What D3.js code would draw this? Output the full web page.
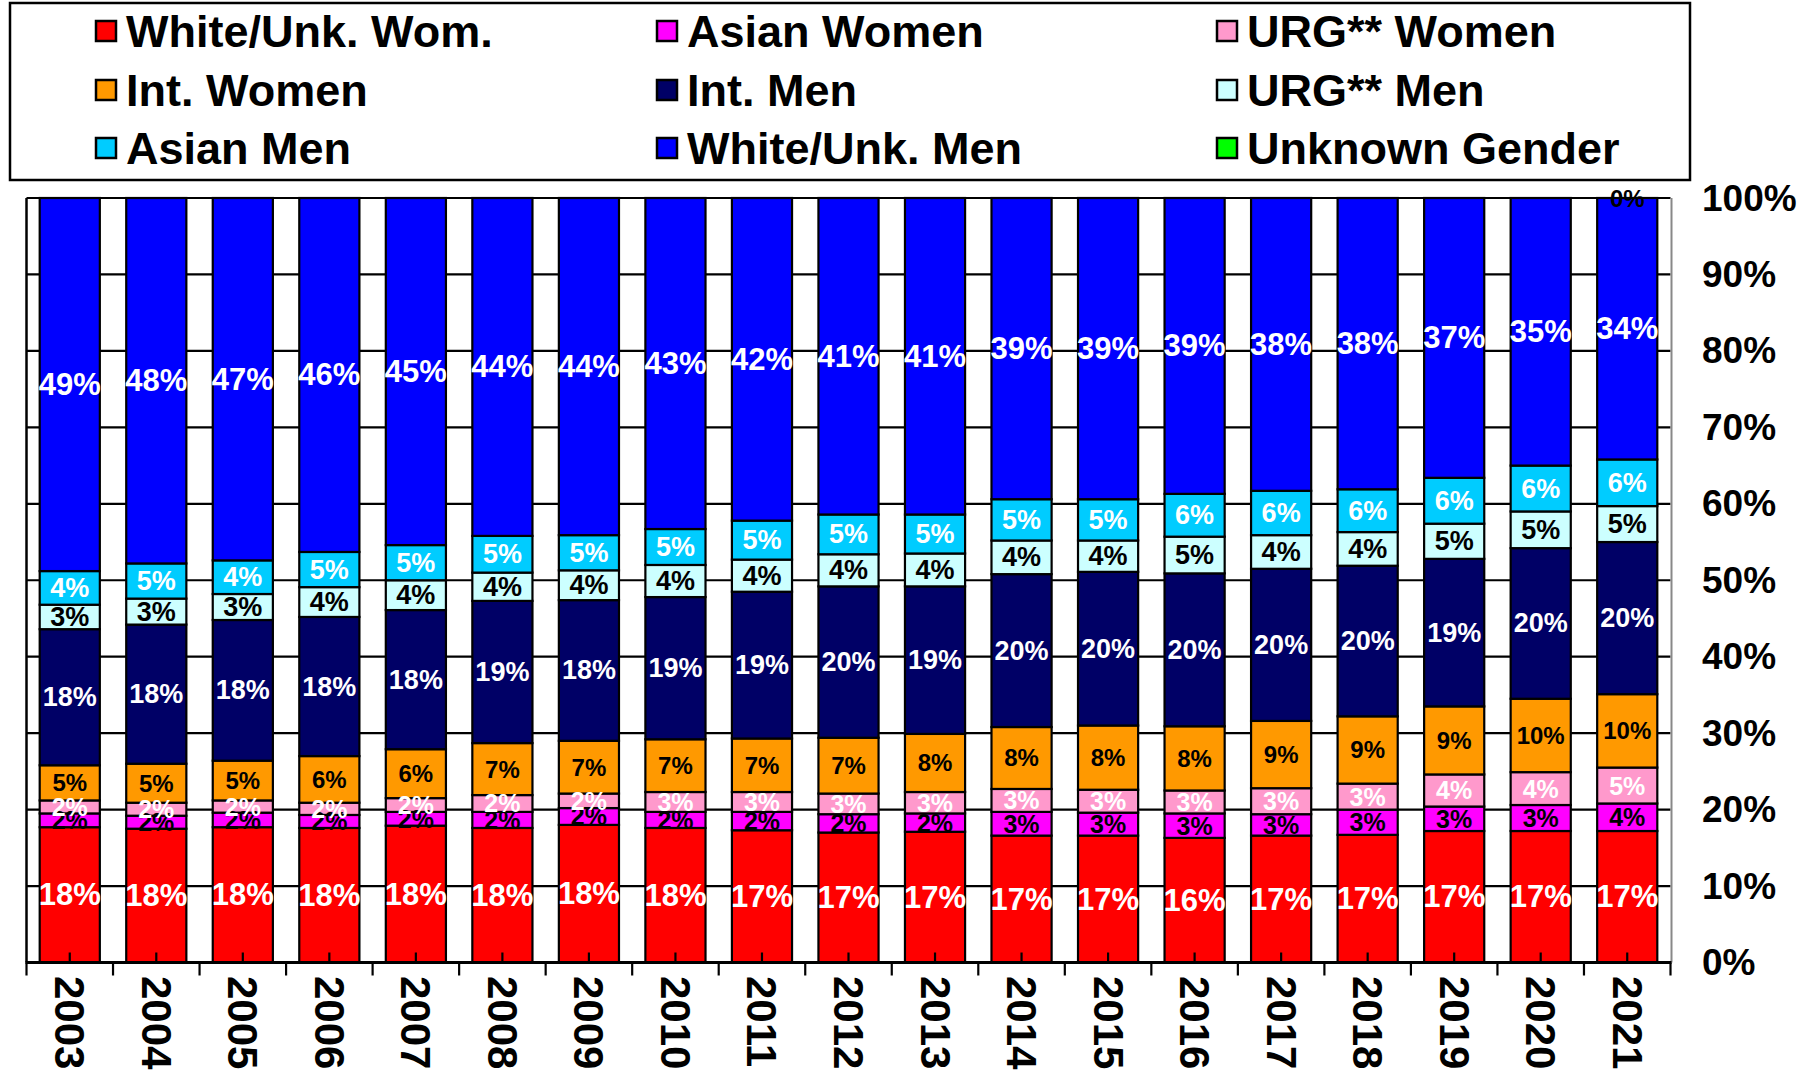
<!DOCTYPE html>
<html>
<head>
<meta charset="utf-8">
<script src="https://cdn.jsdelivr.net/npm/d3@7"></script>
<style>
  html, body { margin: 0; padding: 0; background: #fff; }
  svg { display: block; font-family: "Liberation Sans", Arial, sans-serif; font-weight: bold; }
</style>
</head>
<body>
<svg id="chart" width="1803" height="1074"></svg>
<script>
// ---------- DATA ----------
const years = ["2003","2004","2005","2006","2007","2008","2009","2010","2011","2012","2013","2014","2015","2016","2017","2018","2019","2020","2021"];
const seriesNames = ["White/Unk. Wom.","Asian Women","URG** Women","Int. Women","Int. Men","URG** Men","Asian Men","White/Unk. Men","Unknown Gender"];
const seriesColors = ["#FF0000","#FF00FF","#FF99CC","#FF9900","#000066","#CCFFFF","#00CCFF","#0000FF","#00FF00"];
const labelColors = ["#FFFFFF","#000000","#FFFFFF","#000000","#FFFFFF","#000000","#FFFFFF","#FFFFFF","#000000"];
const labelSizes = [31, 25, 25, 24, 27, 27, 27, 31, 24];

const whiteWomen = [17.7,17.5,17.7,17.6,17.9,17.6,18.0,17.6,17.3,17.0,17.1,16.6,16.6,16.3,16.6,16.7,17.2,17.2,17.2];
const asianWomen = [1.8,1.7,1.9,1.7,1.8,2.1,2.2,2.1,2.4,2.4,2.4,3.1,3.0,3.2,2.8,3.3,3.2,3.4,3.6];
const urgWomen   = [1.7,1.7,1.6,1.6,1.8,2.2,1.9,2.6,2.6,2.7,2.8,3.0,3.0,3.0,3.4,3.4,4.2,4.3,4.7];
const intWomen   = [4.6,5.1,5.2,6.1,6.4,6.8,6.9,6.9,7.0,7.3,7.6,8.1,8.4,8.4,8.8,8.8,8.9,9.6,9.6];
const intMen     = [17.8,18.2,18.4,18.2,18.2,18.6,18.4,18.6,19.2,19.8,19.3,20.0,20.1,20.0,19.9,19.7,19.3,19.7,19.9];
const urgMen     = [3.2,3.4,3.4,3.9,3.9,3.7,3.9,4.2,4.2,4.2,4.3,4.4,4.1,4.8,4.4,4.4,4.6,4.8,4.7];
const asianMen   = [4.4,4.6,4.4,4.6,4.6,4.8,4.6,4.7,5.1,5.2,5.1,5.4,5.4,5.6,5.8,5.6,6.0,6.0,6.1];
const whiteMen   = [48.8,47.8,47.4,46.3,45.4,44.2,44.1,43.3,42.2,41.4,41.4,39.4,39.4,38.7,38.3,38.1,36.6,35.0,34.2];
const unknownGender = [null,null,null,null,null,null,null,null,null,null,null,null,null,null,null,null,null,null,0];

const yTicks = [0,10,20,30,40,50,60,70,80,90,100];

// ---------- BUILD ----------
const seriesValues = [whiteWomen, asianWomen, urgWomen, intWomen, intMen, urgMen, asianMen, whiteMen, unknownGender];
const table = years.map((yr, i) => {
  const row = { year: yr };
  seriesNames.forEach((s, k) => { row[s] = seriesValues[k][i]; });
  return row;
});

const stacked = d3.stack().keys(seriesNames).value((d, key) => d[key] == null ? 0 : d[key])(table);

const svg = d3.select("#chart");

const plotLeft = 26.5, plotRight = 1670.5, plotTop = 198, plotBottom = 962.5;

const x = d3.scaleBand().domain(years).range([plotLeft, plotRight]).paddingInner(0.305).paddingOuter(0.1525);
const y = d3.scaleLinear().domain([0, 100]).range([plotBottom, plotTop]);

// gridlines
svg.append("g").selectAll("line").data(yTicks.filter(t => t > 0)).join("line")
  .attr("x1", plotLeft).attr("x2", plotRight)
  .attr("y1", d => y(d)).attr("y2", d => y(d))
  .attr("stroke", "#000").attr("stroke-width", 2.2);

// left border
svg.append("line").attr("x1", plotLeft).attr("x2", plotLeft).attr("y1", plotTop).attr("y2", plotBottom)
  .attr("stroke", "#000").attr("stroke-width", 2.5);
// right border (gray)
svg.append("line").attr("x1", plotRight + 1).attr("x2", plotRight + 1).attr("y1", plotTop).attr("y2", plotBottom)
  .attr("stroke", "#888").attr("stroke-width", 2);

// bars
const gBars = svg.append("g");
stacked.forEach((layer, k) => {
  gBars.append("g").selectAll("rect").data(layer.filter(d => d.data[seriesNames[k]] != null)).join("rect")
    .attr("x", d => x(d.data.year))
    .attr("width", x.bandwidth())
    .attr("y", d => y(d[1]))
    .attr("height", d => Math.max(0, y(d[0]) - y(d[1])))
    .attr("fill", seriesColors[k])
    .attr("stroke", "#000")
    .attr("stroke-width", 2.2);
});

// x axis line and ticks
svg.append("line").attr("x1", plotLeft - 1).attr("x2", plotRight + 1).attr("y1", plotBottom).attr("y2", plotBottom)
  .attr("stroke", "#000").attr("stroke-width", 3);
const boundaries = years.map(yr => x(yr) - x.step() * x.paddingInner() / 2).concat([plotRight]);
boundaries[0] = plotLeft;
svg.append("g").selectAll("line").data(boundaries).join("line")
  .attr("x1", d => d).attr("x2", d => d)
  .attr("y1", plotBottom).attr("y2", plotBottom + 13)
  .attr("stroke", "#000").attr("stroke-width", 2.2);
svg.append("g").selectAll("line").data(years).join("line")
  .attr("x1", d => x(d) + x.bandwidth() / 2).attr("x2", d => x(d) + x.bandwidth() / 2)
  .attr("y1", plotBottom - 10).attr("y2", plotBottom)
  .attr("stroke", "#000").attr("stroke-width", 2.2);

// data labels
const gLabels = svg.append("g");
stacked.forEach((layer, k) => {
  gLabels.append("g").selectAll("text").data(layer.filter(d => d.data[seriesNames[k]] != null)).join("text")
    .attr("x", d => x(d.data.year) + x.bandwidth() / 2)
    .attr("y", d => y((d[0] + d[1]) / 2))
    .attr("text-anchor", "middle")
    .attr("dominant-baseline", "central")
    .attr("fill", labelColors[k])
    .attr("font-size", labelSizes[k])
    .text(d => Math.round(d.data[seriesNames[k]]) + "%");
});

// y axis labels (right side)
svg.append("g").selectAll("text").data(yTicks).join("text")
  .attr("x", 1702)
  .attr("y", d => y(d))
  .attr("dominant-baseline", "central")
  .attr("font-size", 37)
  .attr("fill", "#000")
  .text(d => d + "%");

// x axis labels (rotated)
svg.append("g").selectAll("text").data(years).join("text")
  .attr("transform", d => `translate(${x(d) + x.bandwidth() / 2},976) rotate(90)`)
  .attr("text-anchor", "start")
  .attr("dominant-baseline", "central")
  .attr("font-size", 42)
  .attr("fill", "#000")
  .text(d => d);

// legend
const legend = svg.append("g");
legend.append("rect").attr("x", 10).attr("y", 3).attr("width", 1680).attr("height", 177)
  .attr("fill", "#fff").attr("stroke", "#000").attr("stroke-width", 2.5);
const colX = [96, 657, 1217];
const rowY = [31, 90, 148];
seriesNames.forEach((name, k) => {
  const cx = colX[k % 3], cy = rowY[Math.floor(k / 3)];
  legend.append("rect").attr("x", cx).attr("y", cy - 10).attr("width", 20).attr("height", 20)
    .attr("fill", seriesColors[k]).attr("stroke", "#000").attr("stroke-width", 2.5);
  legend.append("text").attr("x", cx + 30).attr("y", cy)
    .attr("dominant-baseline", "central")
    .attr("font-size", 45).attr("fill", "#000")
    .text(name);
});
</script>
</body>
</html>
